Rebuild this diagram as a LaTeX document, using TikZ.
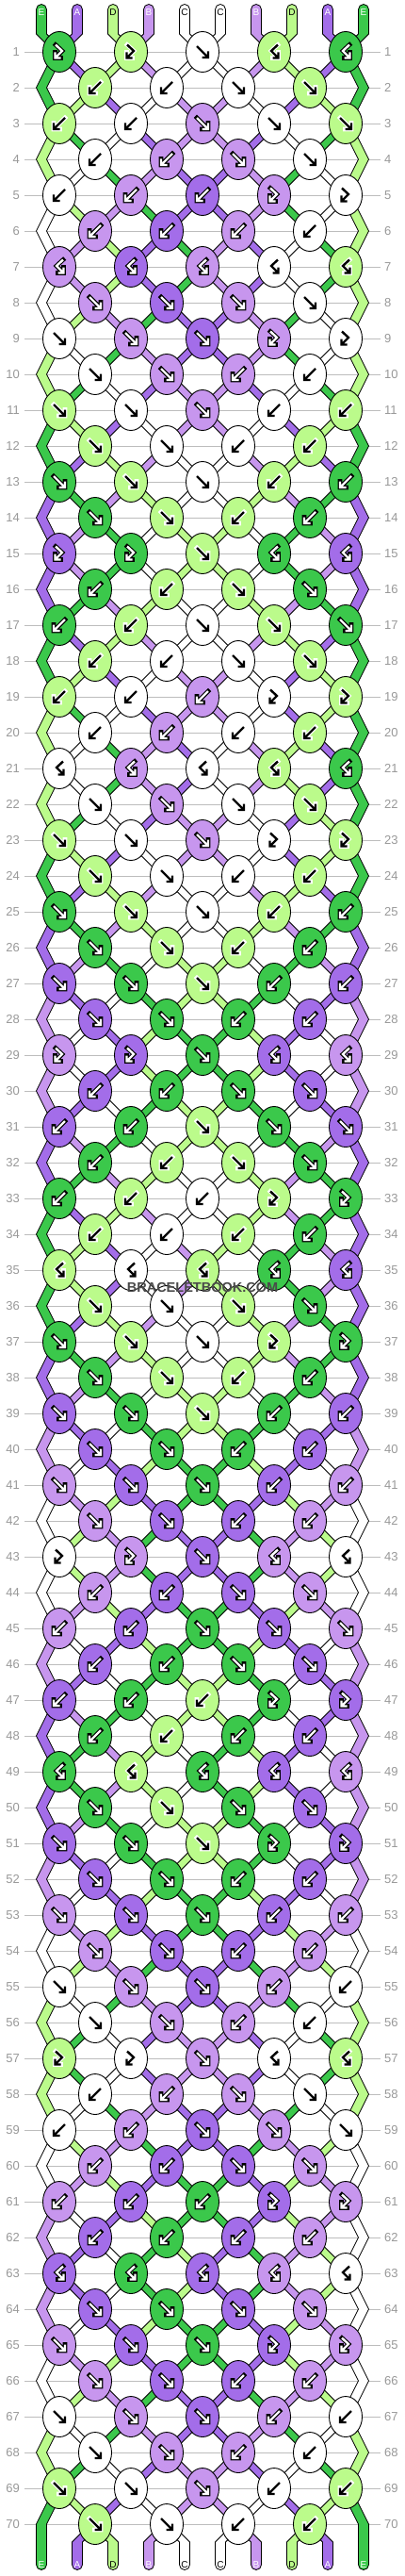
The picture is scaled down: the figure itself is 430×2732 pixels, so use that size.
\documentclass[tikz,border=0pt]{standalone}
\usepackage{fontspec}
\setmainfont{Liberation Sans}
\usetikzlibrary{shapes.geometric}
\definecolor{cE}{HTML}{3BC84B}
\definecolor{cA}{HTML}{A36DE9}
\definecolor{cD}{HTML}{BBFB8B}
\definecolor{cB}{HTML}{C796EE}
\definecolor{cC}{HTML}{FFFFFF}
\definecolor{gridgray}{HTML}{BDBDBD}
\definecolor{numgray}{HTML}{999999}
\definecolor{markgray}{HTML}{4A4A4A}
\def\hw{5.5pt}
% knot types per row (period 14): f forward, b backward, p forward-backward, q backward-forward
\expandafter\def\csname ty1\endcsname{p,p,f,q,q}
\expandafter\def\csname ty2\endcsname{b,b,f,f}
\expandafter\def\csname ty3\endcsname{b,b,f,f,f}
\expandafter\def\csname ty4\endcsname{b,b,f,f}
\expandafter\def\csname ty5\endcsname{b,b,b,p,p}
\expandafter\def\csname ty6\endcsname{b,b,b,b}
\expandafter\def\csname ty7\endcsname{q,q,q,q,q}
\expandafter\def\csname ty8\endcsname{f,f,f,f}
\expandafter\def\csname ty9\endcsname{f,f,f,p,p}
\expandafter\def\csname ty10\endcsname{f,f,b,b}
\expandafter\def\csname ty11\endcsname{f,f,f,b,b}
\expandafter\def\csname ty12\endcsname{f,f,b,b}
\expandafter\def\csname ty13\endcsname{f,f,f,b,b}
\expandafter\def\csname ty14\endcsname{f,f,b,b}
% arrow glyph paths
\expandafter\def\csname apf\endcsname{(-6,6)--(5,-5) (-0.5,-6)--(6,-6)--(6,0.5)}
\expandafter\def\csname apb\endcsname{(6,6)--(-5,-5) (0.5,-6)--(-6,-6)--(-6,0.5)}
\expandafter\def\csname app\endcsname{(-4,7.5)--(3,1)--(-3.5,-5.5) (-4.5,-0.5)--(-4.5,-6.5)--(1.5,-6.5)}
\expandafter\def\csname apq\endcsname{(4,7.5)--(-3,1)--(3.5,-5.5) (4.5,-0.5)--(4.5,-6.5)--(-1.5,-6.5)}
\newcommand\knotarrow[3]{% position, type, knot colour letter
  \def\afg{white}\def\abg{black}%
  \if D#3\def\afg{black}\def\abg{white}\fi
  \if C#3\def\afg{black}\def\abg{white}\fi
  \edef\apath{\csname ap#2\endcsname}%
  \begin{scope}[shift={(#1)}]
    \draw[line width=4.6pt, line join=miter, line cap=rect, draw=\abg] \apath;
    \draw[line width=2.4pt, line join=miter, line cap=butt, draw=\afg] \apath;
  \end{scope}}
\newcommand\strseg[4]{%
  \edef\smid{#3}%
  \ifx\smid\empty
    \filldraw[strand, fill=c#1] ([xshift=-\hw]#2) -- ([xshift=-\hw]#4) -- ([xshift=\hw]#4) -- ([xshift=\hw]#2) -- cycle;
  \else
    \filldraw[strand, fill=c#1] ([xshift=-\hw]#2) -- ([xshift=-\hw]\smid) -- ([xshift=-\hw]#4) -- ([xshift=\hw]#4) -- ([xshift=\hw]\smid) -- ([xshift=\hw]#2) -- cycle;
  \fi}
\tikzset{
  knot/.style={ellipse, draw=black, line width=0.9pt, minimum width=35pt, minimum height=43pt, inner sep=0pt},
  strand/.style={draw=black, line width=0.8pt, line join=miter},
  gridline/.style={draw=gridgray, line width=0.9pt},
  rownum/.style={text=numgray, font=\fontsize{13}{13}\selectfont, inner sep=0pt},
  endlabel/.style={font=\fontsize{10}{10}\selectfont, inner sep=0pt},
}
\begin{document}
\begin{tikzpicture}[x=1pt,y=1pt]
\useasboundingbox (0,0) rectangle (430,-2732);
\fill[white] (0,0) rectangle (430,-2732);
% pass 0: row lines and numbers
\foreach \r in {1,...,70}{%
  \pgfmathsetmacro\y{-55-38*(\r-1)}%
  \draw[gridline] (26,\y) -- (404,\y);
  \node[rownum, anchor=east] (ln-\r) at (21,\y) {\r};
  \node[rownum, anchor=west] (rn-\r) at (408,\y) {\r};
}
% initial string order
\foreach \p/\sc in {1/E,2/A,3/D,4/B,5/C,6/C,7/B,8/D,9/A,10/E}{%
  \pgfmathsetmacro\xp{44+38*(\p-1)}%
  \coordinate (t-\p) at (\xp,-10);
  \coordinate (u-\p) at (\xp,-36);
  \expandafter\xdef\csname col\p\endcsname{\sc}%
  \expandafter\xdef\csname lst\p\endcsname{}%
  \expandafter\xdef\csname mid\p\endcsname{}%
}
% pass 1: follow the strings, draw their segments between knot points
\foreach \r in {1,...,70}{%
  \pgfmathtruncatemacro\m{mod(\r-1,14)+1}%
  \pgfmathsetmacro\y{-55-38*(\r-1)}%
  \pgfmathtruncatemacro\odd{mod(\r,2)}%
  \ifnum\odd=0
    \coordinate (e-\r-1) at (44,\y);
    \coordinate (e-\r-10) at (386,\y);
    \expandafter\xdef\csname mid1\endcsname{e-\r-1}%
    \expandafter\xdef\csname mid10\endcsname{e-\r-10}%
  \fi
  \edef\tl{\csname ty\m\endcsname}%
  \foreach \kt [count=\i] in \tl {%
    \ifnum\odd=1 \pgfmathtruncatemacro\pl{2*\i-1}\else \pgfmathtruncatemacro\pl{2*\i}\fi
    \pgfmathtruncatemacro\pr{\pl+1}%
    \pgfmathsetmacro\x{63+38*(\pl-1)}%
    \edef\cL{\csname col\pl\endcsname}%
    \edef\cR{\csname col\pr\endcsname}%
    \edef\kc{\cR}%
    \if f\kt \edef\kc{\cL}\fi
    \if p\kt \edef\kc{\cL}\fi
    \expandafter\xdef\csname kc-\r-\i\endcsname{\kc}%
    \coordinate (k-\r-\i) at (\x,\y);
    \ifnum\r>1
      \edef\tmp{\noexpand\strseg{\cL}{\csname lst\pl\endcsname}{\csname mid\pl\endcsname}{k-\r-\i}%
        \noexpand\strseg{\cR}{\csname lst\pr\endcsname}{\csname mid\pr\endcsname}{k-\r-\i}}%
      \tmp
    \fi
    \edef\nL{\cL}\edef\nR{\cR}%
    \if f\kt \edef\nL{\cR}\edef\nR{\cL}\fi
    \if b\kt \edef\nL{\cR}\edef\nR{\cL}\fi
    \expandafter\xdef\csname col\pl\endcsname{\nL}%
    \expandafter\xdef\csname col\pr\endcsname{\nR}%
    \expandafter\xdef\csname lst\pl\endcsname{k-\r-\i}%
    \expandafter\xdef\csname lst\pr\endcsname{k-\r-\i}%
    \expandafter\xdef\csname mid\pl\endcsname{}%
    \expandafter\xdef\csname mid\pr\endcsname{}%
  }%
}
% top string ends
\foreach \p/\sc in {1/E,2/A,3/D,4/B,5/C,6/C,7/B,8/D,9/A,10/E}{%
  \pgfmathtruncatemacro\ki{(\p+1)/2}%
  \filldraw[strand, fill=c\sc] ([xshift=\hw]t-\p) arc[start angle=0,end angle=180,radius=\hw] -- ([xshift=-\hw]u-\p) -- ([xshift=-\hw]k-1-\ki) -- ([xshift=\hw]k-1-\ki) -- ([xshift=\hw]u-\p) -- cycle;
  \def\lc{white}\if D\sc\def\lc{black}\fi\if C\sc\def\lc{black}\fi
  \node[endlabel, text=\lc] (tl-\p) at ([yshift=-3pt]t-\p) {\sc};
}
% bottom string ends
\foreach \p in {1,...,10}{%
  \pgfmathsetmacro\xp{44+38*(\p-1)}%
  \edef\bc{\csname col\p\endcsname}%
  \edef\bl{\csname lst\p\endcsname}%
  \edef\bm{\csname mid\p\endcsname}%
  \coordinate (w-\p) at (\xp,-2720);
  \ifx\bm\empty
    \coordinate (v-\p) at (\xp,-2696);
    \edef\bm{v-\p}%
  \fi
  \filldraw[strand, fill=c\bc] ([xshift=-\hw]\bl) -- ([xshift=-\hw]\bm) -- ([xshift=-\hw]w-\p) arc[start angle=180,end angle=360,radius=\hw] -- ([xshift=\hw]\bm) -- ([xshift=\hw]\bl) -- cycle;
  \def\lc{white}\if D\bc\def\lc{black}\fi\if C\bc\def\lc{black}\fi
  \node[endlabel, text=\lc] (bl-\p) at (w-\p) {\bc};
}
% pass 2: knots and their arrows
\foreach \r in {1,...,70}{%
  \pgfmathtruncatemacro\m{mod(\r-1,14)+1}%
  \edef\tl{\csname ty\m\endcsname}%
  \foreach \kt [count=\i] in \tl {%
    \edef\kc{\csname kc-\r-\i\endcsname}%
    \node[knot, fill=c\kc] (kn-\r-\i) at (k-\r-\i) {};
    \knotarrow{kn-\r-\i.center}{\kt}{\kc}%
  }%
}
\node[font=\bfseries\fontsize{14.5}{14.5}\selectfont, text=markgray, inner sep=0pt] (wm) at (215,-1365) {BRACELETBOOK.COM};
\end{tikzpicture}
\end{document}
